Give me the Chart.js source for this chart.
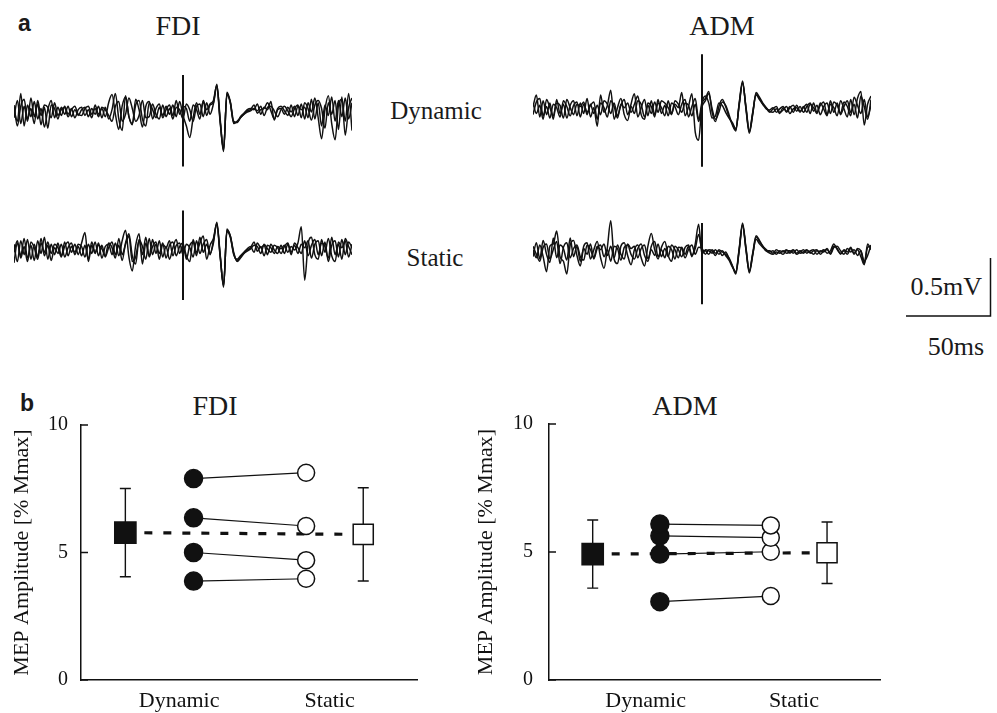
<!DOCTYPE html>
<html>
<head>
<meta charset="utf-8">
<script src="https://cdn.jsdelivr.net/npm/chart.js@4.4.1/dist/chart.umd.min.js"></script>
<style>
body { margin: 0; background: #fff; }
#fig { position: relative; width: 997px; height: 713px; overflow: hidden; font-family: "Liberation Serif", serif; color: #1a1a1a; }
canvas { position: absolute; }
.t { position: absolute; white-space: nowrap; line-height: 1; transform: translate(-50%, -50%); }
.r { position: absolute; white-space: nowrap; line-height: 1; transform: translate(-100%, -50%); }
.lab { position: absolute; font-family: "Liberation Sans", Arial, sans-serif; font-weight: bold; font-size: 23px; line-height: 1; }
</style>
</head>
<body>
<div id="fig">
  <div class="lab" style="left:18px;top:12px">a</div>
  <div class="lab" style="left:20px;top:392px">b</div>
  <div class="t" style="left:178px;top:26px;font-size:28px">FDI</div>
  <div class="t" style="left:722px;top:26px;font-size:28px">ADM</div>
  <div class="t" style="left:436px;top:110px;font-size:25px">Dynamic</div>
  <div class="t" style="left:435px;top:257px;font-size:25px">Static</div>
  <div class="r" style="left:982px;top:287px;font-size:26px">0.5mV</div>
  <div class="r" style="left:984px;top:347px;font-size:26px">50ms</div>
  <div class="t" style="left:215px;top:406px;font-size:28px">FDI</div>
  <div class="t" style="left:685px;top:406px;font-size:28px">ADM</div>

  <canvas id="fdiDyn" width="338" height="140" style="left:14px;top:42px"></canvas>
  <canvas id="fdiStat" width="338" height="140" style="left:14px;top:180px"></canvas>
  <canvas id="admDyn" width="338" height="140" style="left:533px;top:40px"></canvas>
  <canvas id="admStat" width="338" height="140" style="left:533px;top:182px"></canvas>
  <canvas id="bar" width="96" height="72" style="left:900px;top:250px"></canvas>
  <canvas id="fdiB" width="440" height="333" style="left:0px;top:380px"></canvas>
  <canvas id="admB" width="440" height="333" style="left:460px;top:380px"></canvas>
</div>

<script>
// ---- panel a: EMG sweeps (mV), sampled every 2 ms around the stimulus at 0 ms ----
const time = [-100,-98,-96,-94,-92,-90,-88,-86,-84,-82,-80,-78,-76,-74,-72,-70,-68,-66,-64,-62,
  -60,-58,-56,-54,-52,-50,-48,-46,-44,-42,-40,-38,-36,-34,-32,-30,-28,-26,-24,-22,
  -20,-18,-16,-14,-12,-10,-8,-6,-4,-2,0,2,4,6,8,10,12,14,16,18,
  20,22,24,26,28,30,32,34,36,38,40,42,44,46,48,50,52,54,56,58,
  60,62,64,66,68,70,72,74,76,78,80,82,84,86,88,90,92,94,96,98,100];

const fdiDynA = [0.02,-0.08,0.16,-0.12,0.06,-0.04,0.09,-0.06,0.03,-0.13,
  0.02,0.10,-0.05,0.04,-0.03,0.05,-0.02,0.03,-0.05,0.02,
  0.04,-0.03,0.02,-0.05,0.06,-0.02,0.03,-0.04,0.08,0.15,
  -0.02,-0.15,0.05,0.13,-0.04,-0.10,0.06,0.10,-0.06,-0.12,
  0.08,0.02,-0.05,0.04,-0.03,0.05,-0.02,0.06,-0.04,0.09,
  -0.03,-0.12,-0.22,-0.05,0.08,-0.02,0.09,-0.03,0.06,0.08,
  0.24,-0.08,-0.34,0.16,0.08,-0.09,-0.09,-0.05,-0.02,0.01,
  0.02,0.06,-0.01,0.02,0.03,0.08,0.01,-0.06,0.02,0.03,
  -0.02,0.04,0.00,0.05,-0.03,0.07,-0.06,0.08,0.00,0.12,
  -0.05,-0.23,0.02,0.14,-0.10,-0.24,0.06,0.11,-0.08,0.16,
  -0.16];
const fdiDynB = [-0.05,0.10,-0.10,0.05,-0.08,0.12,-0.04,0.07,-0.11,0.04,
  -0.14,0.06,0.03,-0.06,0.04,-0.02,0.05,-0.04,0.02,-0.03,
  0.02,0.04,-0.04,0.03,-0.02,0.05,-0.05,0.04,-0.06,0.02,
  0.16,-0.06,-0.16,0.14,-0.04,-0.11,0.11,0.02,-0.13,0.05,
  0.09,-0.06,0.03,0.07,-0.05,0.02,0.06,-0.03,0.10,-0.02,
  0.05,0.03,-0.08,0.06,0.02,-0.06,0.10,0.02,0.07,0.10,
  0.23,-0.06,-0.33,0.17,0.09,-0.08,-0.09,-0.04,-0.01,0.02,
  0.03,0.02,0.07,-0.02,0.04,0.02,0.09,-0.07,0.03,0.05,
  0.01,-0.03,0.06,-0.04,0.05,0.02,0.04,-0.05,0.11,-0.06,
  0.08,-0.12,0.06,-0.03,0.13,-0.08,0.10,-0.04,0.12,-0.06,
  0.08];
const fdiDynC = [0.06,-0.12,0.05,0.11,-0.06,0.03,-0.10,0.10,-0.03,0.06,
  0.04,-0.05,0.08,-0.03,0.02,0.04,-0.04,0.02,0.05,-0.02,
  -0.03,0.03,0.05,-0.02,0.03,-0.04,0.04,0.02,-0.03,-0.08,
  0.05,0.09,-0.08,-0.02,0.12,0.03,-0.08,-0.03,0.10,-0.05,
  -0.04,0.07,-0.02,-0.06,0.06,-0.04,0.03,-0.06,0.04,0.02,
  -0.06,0.07,0.02,-0.08,0.05,0.07,-0.04,0.08,-0.02,0.07,
  0.22,-0.09,-0.32,0.15,0.08,-0.10,-0.08,-0.05,-0.02,0.00,
  0.01,0.03,0.01,0.05,-0.03,0.04,0.05,0.01,-0.04,0.02,
  0.05,0.01,-0.04,0.03,0.06,-0.05,0.08,0.03,-0.07,0.06,
  0.10,0.03,-0.14,0.08,-0.02,0.10,-0.15,0.13,-0.20,0.04,
  0.12];

const fdiStatA = [-0.11,0.06,-0.05,0.10,-0.07,0.04,-0.09,0.08,-0.03,0.11,
  -0.08,0.05,-0.04,0.06,-0.05,0.03,0.07,-0.02,0.05,-0.04,
  0.06,0.15,-0.10,0.04,-0.03,0.06,-0.07,0.03,0.05,-0.04,
  0.06,-0.05,0.08,0.17,-0.06,-0.18,0.04,0.14,-0.12,0.06,
  -0.05,0.09,-0.03,0.08,-0.06,0.03,-0.08,0.02,0.09,-0.03,
  0.04,-0.05,-0.10,0.09,-0.02,0.06,0.12,-0.08,0.04,0.10,
  0.23,-0.05,-0.31,0.17,0.12,-0.03,-0.09,-0.06,-0.03,0.00,
  0.02,0.07,-0.01,0.03,-0.05,0.04,0.02,-0.03,0.03,0.01,
  0.04,-0.02,0.03,0.00,0.06,0.20,-0.26,0.05,0.11,-0.04,
  -0.08,0.09,-0.02,0.10,-0.05,-0.10,0.07,0.02,0.08,-0.06,
  0.05];
const fdiStatB = [0.05,-0.10,0.08,-0.04,0.09,-0.08,0.05,-0.06,0.10,-0.05,
  0.04,-0.09,0.02,-0.03,0.05,-0.06,0.02,0.06,-0.04,0.03,
  -0.05,0.04,-0.08,0.07,-0.02,0.04,0.01,-0.05,0.06,0.02,
  -0.07,0.10,-0.04,0.05,0.12,-0.10,-0.06,0.08,-0.04,0.11,
  -0.06,0.03,0.07,-0.08,0.05,0.02,0.08,-0.05,0.04,0.06,
  -0.04,0.05,0.02,-0.06,0.08,-0.03,0.05,0.09,-0.04,0.08,
  0.22,-0.06,-0.30,0.16,0.11,-0.04,-0.08,-0.05,-0.02,0.01,
  0.03,-0.02,0.06,0.02,0.04,-0.04,0.05,0.00,-0.03,0.04,
  -0.03,0.05,-0.04,0.06,0.02,-0.03,0.08,-0.05,0.04,0.09,
  -0.04,0.06,0.03,-0.07,0.11,-0.04,0.05,-0.08,0.10,0.03,
  -0.04];
const fdiStatC = [-0.02,0.08,-0.07,0.03,-0.10,0.07,0.02,-0.08,0.06,-0.02,
  0.07,-0.03,0.05,0.02,-0.06,0.07,-0.05,0.03,-0.02,0.05,
  0.03,-0.06,0.05,-0.03,0.07,-0.05,0.04,-0.06,0.02,0.07,
  -0.04,0.04,-0.09,0.06,0.14,-0.05,-0.12,0.09,0.03,-0.08,
  0.10,-0.04,0.05,-0.03,0.06,-0.07,0.04,0.07,-0.05,0.03,
  0.06,-0.08,0.04,0.07,-0.05,0.11,-0.02,0.05,-0.03,0.06,
  0.24,-0.04,-0.32,0.18,0.12,-0.02,-0.10,-0.07,-0.03,-0.01,
  0.01,0.04,0.03,-0.03,0.05,0.01,-0.02,0.04,0.02,-0.03,
  0.03,0.06,-0.02,0.04,-0.03,0.05,0.02,0.08,-0.07,0.05,
  0.08,-0.05,0.07,-0.10,0.04,0.08,-0.06,0.09,-0.04,0.07,
  0.02];

const admDynA = [0.03,0.13,-0.06,0.08,-0.04,0.06,-0.08,0.09,-0.03,0.05,
  -0.07,0.04,0.08,-0.05,0.06,-0.03,0.10,-0.06,0.02,-0.14,
  0.13,-0.02,0.04,0.17,-0.08,0.02,0.10,-0.04,-0.09,0.05,
  0.14,-0.06,0.02,0.09,-0.05,0.08,-0.04,0.06,0.02,-0.05,
  0.08,-0.03,0.05,0.02,0.15,-0.05,0.03,0.14,-0.19,-0.26,
  0.05,0.10,0.16,-0.02,-0.10,0.03,0.09,0.03,-0.06,-0.12,
  -0.17,0.05,0.24,0.02,-0.19,-0.03,0.14,0.10,0.05,0.02,
  -0.01,-0.02,0.01,-0.03,0.02,-0.01,0.03,-0.02,0.04,-0.01,
  0.02,0.05,-0.03,0.06,-0.02,0.04,0.07,-0.04,0.05,0.02,
  -0.05,0.08,0.01,-0.06,0.09,-0.04,0.10,0.16,-0.13,0.05,
  0.12];
const admDynB = [-0.04,0.07,0.10,-0.05,0.03,-0.07,0.05,0.02,-0.06,0.08,
  0.03,-0.05,0.04,0.07,-0.06,0.05,-0.02,0.04,0.07,-0.08,
  0.06,0.02,-0.06,0.08,0.03,-0.07,0.05,0.02,0.06,-0.02,
  0.05,0.12,-0.04,-0.08,0.06,0.03,-0.06,0.09,-0.03,0.04,
  -0.05,0.06,0.03,-0.04,0.05,0.09,-0.06,0.03,0.10,-0.08,
  0.07,0.12,0.06,-0.07,-0.05,0.06,0.04,-0.02,-0.07,-0.11,
  -0.16,0.04,0.23,0.03,-0.18,-0.02,0.13,0.09,0.05,0.01,
  0.00,0.02,-0.02,0.01,0.03,-0.02,0.02,0.04,-0.01,0.03,
  -0.02,0.03,0.06,-0.01,0.04,-0.04,0.03,0.06,-0.03,0.07,
  0.04,-0.03,0.07,0.03,-0.05,0.11,0.04,-0.03,0.09,-0.06,
  0.04];
const admDynC = [0.06,-0.03,0.04,-0.08,0.09,0.02,-0.05,0.06,0.04,-0.07,
  0.09,0.02,-0.04,0.05,0.03,0.07,-0.04,0.05,-0.03,0.04,
  -0.04,0.08,0.05,-0.03,0.06,-0.05,0.04,0.09,-0.04,0.03,
  -0.03,0.08,0.05,-0.06,0.04,-0.03,0.07,-0.02,0.08,0.06,
  0.02,-0.04,0.08,0.05,-0.02,0.06,0.04,-0.05,0.05,-0.10,
  0.03,0.08,0.14,0.01,-0.08,-0.02,0.07,0.04,-0.04,-0.13,
  -0.18,0.06,0.25,0.01,-0.20,-0.04,0.15,0.11,0.06,0.02,
  -0.02,0.01,0.03,-0.02,0.00,0.03,-0.03,0.01,0.02,-0.02,
  0.03,-0.02,0.05,0.02,-0.03,0.06,0.01,-0.05,0.08,-0.02,
  0.06,-0.04,0.03,0.08,-0.02,0.05,-0.07,0.12,0.03,-0.08,
  0.09];

const admStatA = [0.02,-0.05,0.06,-0.04,-0.17,0.05,0.07,0.18,-0.04,-0.08,
  -0.19,0.06,0.10,-0.03,-0.12,0.05,0.08,-0.06,0.02,0.09,
  -0.05,-0.14,0.04,0.27,-0.06,-0.10,0.05,0.08,-0.03,-0.11,
  0.02,0.06,-0.05,-0.12,0.05,0.16,0.02,-0.06,0.04,0.09,
  -0.03,-0.08,0.05,0.02,-0.04,0.04,0.06,-0.03,0.03,0.15,
  0.02,0.01,-0.02,0.02,-0.01,0.01,-0.03,0.00,-0.06,-0.12,
  -0.18,0.02,0.24,0.02,-0.17,-0.02,0.11,0.07,0.04,0.01,
  -0.01,-0.02,0.00,-0.01,0.01,-0.01,0.00,0.02,-0.01,0.01,
  -0.01,0.01,0.00,-0.02,0.01,0.00,0.02,-0.01,0.01,0.07,
  0.02,-0.01,0.01,-0.02,0.03,-0.01,0.02,-0.04,-0.11,0.07,
  0.02];
const admStatB = [-0.04,0.08,-0.06,0.10,-0.02,-0.09,0.12,-0.05,0.06,0.03,
  -0.07,0.12,-0.04,0.05,-0.08,0.03,-0.02,0.07,-0.06,0.03,
  0.06,-0.04,0.02,-0.08,0.05,0.03,-0.07,0.04,0.06,-0.02,
  -0.06,0.03,0.07,-0.03,-0.08,0.05,0.09,-0.04,0.02,-0.05,
  0.05,0.02,-0.06,0.04,0.03,-0.05,0.02,0.06,-0.02,0.04,
  0.03,-0.02,0.02,0.01,-0.03,0.02,0.00,-0.02,-0.05,-0.12,
  -0.19,0.01,0.23,0.03,-0.18,-0.03,0.13,0.09,0.05,0.02,
  0.00,0.01,-0.02,0.01,0.00,0.02,-0.01,0.01,-0.02,0.00,
  0.02,-0.01,0.01,0.02,-0.02,0.01,0.00,0.03,-0.02,0.04,
  0.05,0.01,-0.02,0.03,0.00,0.02,-0.03,0.01,-0.08,-0.03,
  0.06];
const admStatC = [0.05,-0.02,-0.08,0.04,0.07,-0.06,0.02,0.09,-0.10,0.04,
  0.08,-0.05,0.03,0.06,-0.04,-0.07,0.06,0.02,-0.05,0.05,
  0.02,0.07,-0.03,0.05,-0.05,0.06,-0.02,-0.06,0.07,0.03,
  0.05,-0.05,0.03,0.06,-0.06,0.02,-0.03,0.07,-0.04,0.03,
  -0.04,0.06,0.02,-0.05,0.04,-0.02,0.05,-0.04,0.07,0.24,
  -0.02,0.02,0.01,-0.01,0.02,-0.02,0.01,-0.03,-0.07,-0.13,
  -0.17,0.03,0.25,0.04,-0.16,-0.01,0.14,0.10,0.05,0.01,
  0.01,-0.01,0.02,0.00,-0.02,0.01,0.01,-0.01,0.02,-0.01,
  0.00,0.02,-0.01,0.01,0.02,-0.02,0.01,0.02,-0.01,0.05,
  0.03,-0.02,0.02,0.00,0.04,-0.02,0.03,0.01,-0.10,0.04,
  0.05];

// stimulus artefact: [top, bottom] in mV
const fdiDynArtifact = [0.32, -0.47];
const fdiStatArtifact = [0.34, -0.43];
const admDynArtifact = [0.48, -0.49];
const admStatArtifact = [0.25, -0.45];

// calibration bar
const barMs = [0, 50, 50];
const barMv = [0, 0, 0.5];

// ---- panel b: MEP amplitude (% Mmax) ----
const categories = ["Dynamic", "Static"];
const fdiSubjDynamic = [7.9, 6.36, 5.0, 3.88];
const fdiSubjStatic = [8.13, 6.04, 4.7, 3.97];
const fdiMean = [5.78, 5.71];
const fdiSd = [1.73, 1.83];
const admSubjDynamic = [6.09, 5.63, 4.92, 3.06];
const admSubjStatic = [6.04, 5.56, 5.01, 3.28];
const admMean = [4.92, 4.97];
const admSd = [1.33, 1.2];

// layout helpers
const pxPerMs = 1.69;
const pxPerMv = 116;
const ink = "#111";
const serif = "Liberation Serif";
const xPos = { meanDyn: 1.32, subjDyn: 3.35, subjStat: 6.7, meanStat: 8.4 };
const catPos = [2.92, 7.4];

Chart.defaults.animation = false;
Chart.defaults.responsive = false;
Chart.defaults.events = [];
Chart.defaults.plugins.legend.display = false;
Chart.defaults.plugins.tooltip.enabled = false;

function traceChart(id, sweeps, artifact) {
  const canvas = document.getElementById(id);
  const half = canvas.height / 2 / pxPerMv;
  const sets = sweeps.map((vals) => ({
    data: time.map((t, i) => ({ x: t, y: vals[i] })),
    borderColor: ink,
    borderWidth: 1.5,
    pointRadius: 0,
    cubicInterpolationMode: "monotone",
  }));
  sets.push({
    data: [{ x: 0, y: artifact[0] }, { x: 0, y: artifact[1] }],
    borderColor: ink,
    borderWidth: 2,
    pointRadius: 0,
  });
  new Chart(canvas, {
    type: "line",
    data: { datasets: sets },
    options: {
      layout: { padding: 0 },
      scales: {
        x: { type: "linear", display: false, min: -100, max: 100 },
        y: { display: false, min: -half, max: half },
      },
    },
  });
}

traceChart("fdiDyn", [fdiDynA, fdiDynB, fdiDynC], fdiDynArtifact);
traceChart("fdiStat", [fdiStatA, fdiStatB, fdiStatC], fdiStatArtifact);
traceChart("admDyn", [admDynA, admDynB, admDynC], admDynArtifact);
traceChart("admStat", [admStatA, admStatB, admStatC], admStatArtifact);

// calibration bar, same ms / mV scaling as the sweeps
(function () {
  const canvas = document.getElementById("bar");
  const xMin = (900 - 906) / pxPerMs;
  const yMax = (316 - 250) / pxPerMv;
  new Chart(canvas, {
    type: "line",
    data: {
      datasets: [{
        data: barMs.map((v, i) => ({ x: v, y: barMv[i] })),
        borderColor: ink,
        borderWidth: 1.5,
        pointRadius: 0,
        borderJoinStyle: "miter",
      }],
    },
    options: {
      layout: { padding: 0 },
      scales: {
        x: { type: "linear", display: false, min: xMin, max: xMin + canvas.width / pxPerMs },
        y: { display: false, min: yMax - canvas.height / pxPerMv, max: yMax },
      },
    },
  });
})();

function mepChart(id, subjDyn, subjStat, mean, sd, opts) {
  const sets = [];
  sets.push({
    data: [{ x: xPos.meanDyn, y: mean[0] }, { x: xPos.meanStat, y: mean[1] }],
    borderColor: ink,
    borderWidth: 3.2,
    borderDash: [8, 11],
    pointRadius: 0,
    order: 10,
  });
  subjDyn.forEach((v, i) => {
    sets.push({
      data: [{ x: xPos.subjDyn, y: v }, { x: xPos.subjStat, y: subjStat[i] }],
      borderColor: ink,
      borderWidth: 1.2,
      pointRadius: [9, 8.5],
      pointBackgroundColor: [ink, "#fff"],
      pointBorderColor: ink,
      pointBorderWidth: 1.5,
      order: 5,
    });
  });
  sets.push({
    data: [{ x: xPos.meanDyn, y: mean[0] }, { x: xPos.meanStat, y: mean[1] }],
    showLine: false,
    pointStyle: "rect",
    pointRadius: [15, 14.2],
    pointBackgroundColor: [ink, "#fff"],
    pointBorderColor: ink,
    pointBorderWidth: 1.5,
    order: 1,
  });

  const errorBars = {
    id: "errorBars",
    beforeDatasetsDraw(chart) {
      const { ctx, scales } = chart;
      ctx.save();
      ctx.strokeStyle = ink;
      ctx.lineWidth = 1.4;
      [xPos.meanDyn, xPos.meanStat].forEach((xv, i) => {
        const px = scales.x.getPixelForValue(xv);
        const top = scales.y.getPixelForValue(mean[i] + sd[i]);
        const bot = scales.y.getPixelForValue(mean[i] - sd[i]);
        ctx.beginPath();
        ctx.moveTo(px, top); ctx.lineTo(px, bot);
        ctx.moveTo(px - 5.5, top); ctx.lineTo(px + 5.5, top);
        ctx.moveTo(px - 5.5, bot); ctx.lineTo(px + 5.5, bot);
        ctx.stroke();
      });
      ctx.restore();
    },
  };
  const inTicks = {
    id: "inTicks",
    afterDraw(chart) {
      const { ctx, chartArea } = chart;
      const y = chart.scales.y;
      ctx.save();
      ctx.strokeStyle = ink;
      ctx.lineWidth = 1.5;
      ctx.beginPath();
      y.ticks.forEach((t) => {
        const py = y.getPixelForValue(t.value);
        ctx.moveTo(chartArea.left, py);
        ctx.lineTo(chartArea.left + 7, py);
      });
      ctx.stroke();
      ctx.restore();
    },
  };

  new Chart(document.getElementById(id), {
    type: "line",
    data: { datasets: sets },
    options: {
      layout: { padding: { left: 0, top: opts.top, right: opts.right, bottom: 0 } },
      scales: {
        x: {
          type: "linear",
          min: 0,
          max: 10,
          grid: { display: false, drawTicks: false },
          border: { display: true, color: ink, width: 1.5 },
          afterBuildTicks: (scale) => { scale.ticks = catPos.map((v) => ({ value: v })); },
          afterFit: (scale) => { scale.height = 33; },
          ticks: {
            autoSkip: false,
            maxRotation: 0,
            padding: 8,
            color: ink,
            font: { family: serif, size: 22 },
            callback: (v, i) => categories[i],
          },
        },
        y: {
          min: 0,
          max: 10,
          grid: { display: false, drawTicks: false },
          border: { display: true, color: ink, width: 1.5 },
          afterFit: (scale) => { scale.width = opts.yw; },
          ticks: {
            stepSize: 5,
            padding: opts.tickPad,
            color: ink,
            font: { family: serif, size: 20 },
          },
          title: {
            display: true,
            text: "MEP Amplitude [% Mmax]",
            color: ink,
            font: { family: serif, size: 22 },
            padding: { top: opts.titlePad, bottom: 0 },
          },
        },
      },
    },
    plugins: [errorBars, inTicks],
  });
}

mepChart("fdiB", fdiSubjDynamic, fdiSubjStatic, fdiMean, fdiSd,
  { top: 45, right: 23, yw: 81, tickPad: 13, titlePad: 9 });
mepChart("admB", admSubjDynamic, admSubjStatic, admMean, admSd,
  { top: 44, right: 20, yw: 89, tickPad: 16, titlePad: 12.8 });
</script>
</body>
</html>
